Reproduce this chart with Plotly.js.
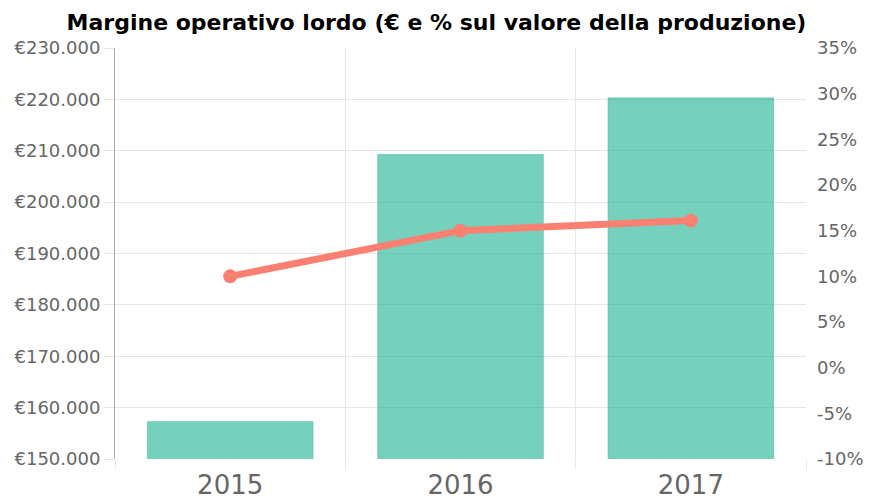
<!DOCTYPE html>
<html>
<head>
<meta charset="utf-8">
<script src="https://cdn.plot.ly/plotly-3.0.1.min.js"></script>
<style>html,body{margin:0;padding:0;background:#fff;}#chart{width:873px;height:499px;}</style>
</head>
<body>
<div id="chart"></div>
<script>
const years = ['2015', '2016', '2017'];
const yearPos = [0, 1, 2];
const margineEuro = [157300, 209300, 220300];
const marginePct = [10.0, 15.0, 16.1];
const pctTicks = [-10, -5, 0, 5, 10, 15, 20, 25, 30, 35];
const pctLabels = ['-10%', '-5%', '0%', '5%', '10%', '15%', '20%', '25%', '30%', '35%'];

const bars = {
  type: 'bar',
  x: yearPos,
  y: margineEuro,
  width: 0.72,
  marker: {color: 'rgba(25,177,147,0.6)', line: {color: 'rgba(25,150,125,0.25)', width: 1}},
  hoverinfo: 'skip',
  yaxis: 'y'
};
const line = {
  type: 'scatter',
  mode: 'lines+markers',
  x: yearPos,
  y: marginePct,
  yaxis: 'y2',
  line: {color: '#fa8072', width: 7},
  marker: {color: '#fa8072', size: 14, symbol: 'circle'},
  hoverinfo: 'skip'
};

const tickFont = {family: 'DejaVu Sans', size: 18, color: '#666'};
const layout = {
  width: 873, height: 499,
  margin: {l: 115, r: 67, t: 48, b: 40},
  paper_bgcolor: '#fff', plot_bgcolor: '#fff',
  showlegend: false,
  separators: ',.',
  title: {
    text: '<b>Margine operativo lordo (€ e % sul valore della produzione)</b>',
    font: {family: 'DejaVu Sans', size: 22, color: '#000'},
    x: 0.5, xanchor: 'center', y: 0.955, yanchor: 'middle'
  },
  xaxis: {
    range: [-0.5, 2.5],
    tickmode: 'array', tickvals: yearPos, ticktext: years,
    showgrid: false, zeroline: false, ticks: '',
    ticklabelstandoff: 8,
    tickfont: {family: 'DejaVu Sans', size: 26, color: '#666'},
    minor: {tick0: -0.5, dtick: 1, showgrid: true, gridcolor: '#e6e6e6', ticks: 'outside', ticklen: 9, tickcolor: '#e6e6e6'},
    fixedrange: true
  },
  yaxis: {
    range: [150000, 230000], dtick: 10000, tick0: 150000,
    tickprefix: '€', tickformat: ',d',
    showgrid: true, gridcolor: '#e6e6e6', zeroline: false,
    showline: true, linecolor: '#aaa', linewidth: 1,
    ticks: 'outside', ticklen: 10, tickcolor: '#e6e6e6',
    tickfont: tickFont
  },
  yaxis2: {
    overlaying: 'y', side: 'right',
    range: [-10, 35],
    tickmode: 'array', tickvals: pctTicks, ticktext: pctLabels,
    showgrid: false, zeroline: false, showline: false, ticks: '',
    ticklabelstandoff: 10,
    tickfont: tickFont
  }
};
Plotly.newPlot('chart', [bars, line], layout, {displayModeBar: false, staticPlot: true});
</script>
</body>
</html>
